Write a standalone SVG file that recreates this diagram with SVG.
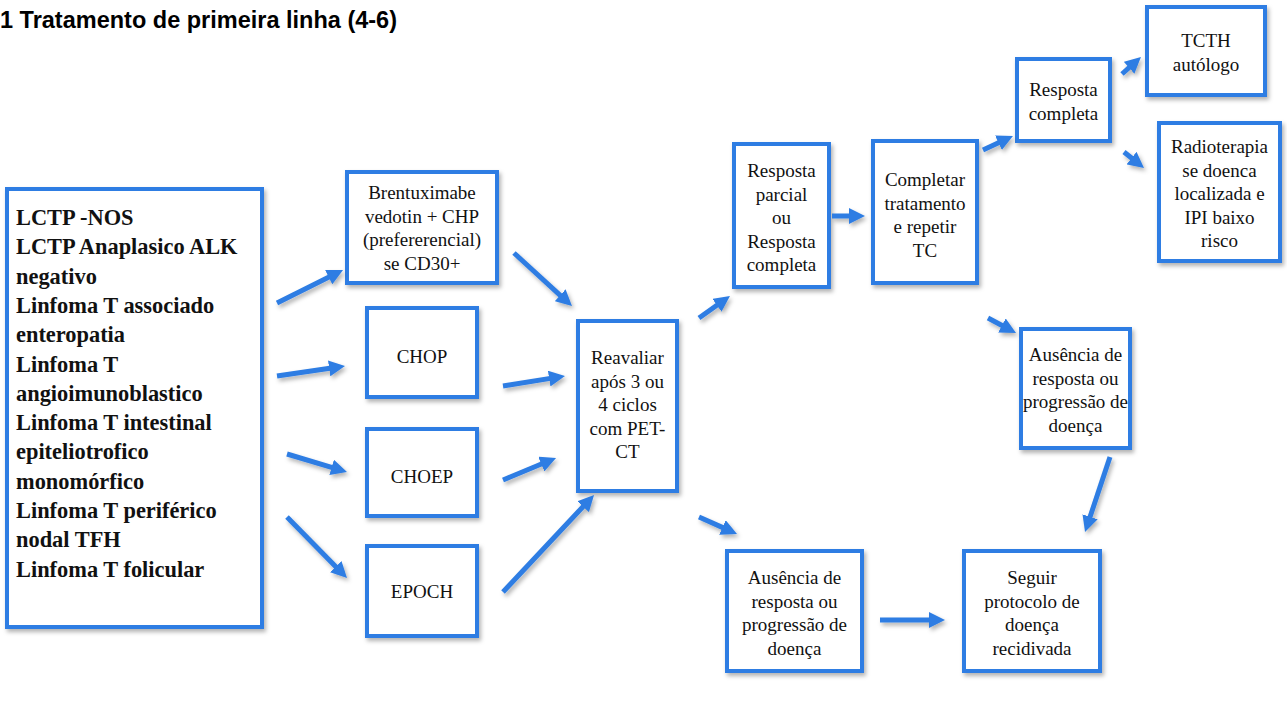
<svg xmlns="http://www.w3.org/2000/svg" width="1287" height="726" viewBox="0 0 1287 726">
<style>
.box{fill:#fff;stroke:#2E7DE3;stroke-width:4;filter:url(#sh)}
.t{font-family:"Liberation Serif","DejaVu Serif",serif;font-size:19px;fill:#111;text-anchor:middle}
.lt{font-family:"Liberation Serif","DejaVu Serif",serif;font-size:22.4px;font-weight:bold;fill:#111}
.title{font-family:"Liberation Sans",Arial,sans-serif;font-size:23.5px;font-weight:bold;fill:#000}
.ar{stroke:#2E7DE3;stroke-width:5;fill:none;marker-end:url(#ah)}
</style>
<defs>
<filter id="sh" x="-20%" y="-20%" width="140%" height="140%">
<feDropShadow dx="2" dy="3" stdDeviation="2" flood-color="#000" flood-opacity="0.3"/>
</filter>
<marker id="ah" markerUnits="userSpaceOnUse" markerWidth="16" markerHeight="16" refX="6" refY="8" orient="auto">
<path d="M0,0 L16,8 L0,16 z" fill="#2E7DE3"/>
</marker>
</defs>
<rect width="1287" height="726" fill="#fff"/>
<text class="title" x="0" y="28">1 Tratamento de primeira linha (4-6)</text>

<g id="n-left">
<rect class="box" x="7" y="189" width="255" height="438"/>
<text class="lt" x="16" y="225">
<tspan x="16" y="225">LCTP -NOS</tspan>
<tspan x="16" y="254.3">LCTP Anaplasico ALK</tspan>
<tspan x="16" y="283.6">negativo</tspan>
<tspan x="16" y="312.9">Linfoma T associado</tspan>
<tspan x="16" y="342.2">enteropatia</tspan>
<tspan x="16" y="371.5">Linfoma T</tspan>
<tspan x="16" y="400.8">angioimunoblastico</tspan>
<tspan x="16" y="430.1">Linfoma T intestinal</tspan>
<tspan x="16" y="459.4">epiteliotrofico</tspan>
<tspan x="16" y="488.7">monomórfico</tspan>
<tspan x="16" y="518">Linfoma T periférico</tspan>
<tspan x="16" y="547.3">nodal TFH</tspan>
<tspan x="16" y="576.6">Linfoma T folicular</tspan>
</text>
</g>

<g id="n-bv">
<rect class="box" x="347" y="172" width="150" height="111"/>
<text class="t"><tspan x="422" y="199">Brentuximabe</tspan><tspan x="422" y="222.5">vedotin + CHP</tspan><tspan x="422" y="246">(prefererencial)</tspan><tspan x="422" y="269.5">se CD30+</tspan></text>
</g>
<g id="n-chop">
<rect class="box" x="367" y="308" width="110" height="89"/>
<text class="t" x="422" y="363">CHOP</text>
</g>
<g id="n-choep">
<rect class="box" x="367" y="429" width="110" height="87"/>
<text class="t" x="422" y="483">CHOEP</text>
</g>
<g id="n-epoch">
<rect class="box" x="367" y="546" width="110" height="90"/>
<text class="t" x="422" y="598">EPOCH</text>
</g>
<g id="n-reav">
<rect class="box" x="578" y="321" width="99" height="170"/>
<text class="t"><tspan x="627.5" y="364">Reavaliar</tspan><tspan x="627.5" y="387.5">após 3 ou</tspan><tspan x="627.5" y="411">4 ciclos</tspan><tspan x="627.5" y="434.5">com PET-</tspan><tspan x="627.5" y="458">CT</tspan></text>
</g>
<g id="n-rp">
<rect class="box" x="734" y="144" width="95" height="143"/>
<text class="t"><tspan x="781.5" y="177">Resposta</tspan><tspan x="781.5" y="200.5">parcial</tspan><tspan x="781.5" y="224">ou</tspan><tspan x="781.5" y="247.5">Resposta</tspan><tspan x="781.5" y="271">completa</tspan></text>
</g>
<g id="n-comp">
<rect class="box" x="873" y="141" width="104" height="142"/>
<text class="t"><tspan x="925" y="186">Completar</tspan><tspan x="925" y="209.5">tratamento</tspan><tspan x="925" y="233">e repetir</tspan><tspan x="925" y="256.5">TC</tspan></text>
</g>
<g id="n-rc">
<rect class="box" x="1017" y="59" width="93" height="82"/>
<text class="t"><tspan x="1063.5" y="96">Resposta</tspan><tspan x="1063.5" y="120">completa</tspan></text>
</g>
<g id="n-tcth">
<rect class="box" x="1147" y="7" width="118" height="88"/>
<text class="t"><tspan x="1206" y="47">TCTH</tspan><tspan x="1206" y="70.5">autólogo</tspan></text>
</g>
<g id="n-radio">
<rect class="box" x="1159" y="123" width="121" height="138"/>
<text class="t"><tspan x="1219.5" y="153">Radioterapia</tspan><tspan x="1219.5" y="176.5">se doenca</tspan><tspan x="1219.5" y="200">localizada e</tspan><tspan x="1219.5" y="223.5">IPI baixo</tspan><tspan x="1219.5" y="247">risco</tspan></text>
</g>
<g id="n-aus1">
<rect class="box" x="1021" y="329" width="109" height="119"/>
<text class="t"><tspan x="1075.5" y="361">Ausência de</tspan><tspan x="1075.5" y="384.5">resposta ou</tspan><tspan x="1075.5" y="408">progressão de</tspan><tspan x="1075.5" y="431.5">doença</tspan></text>
</g>
<g id="n-aus2">
<rect class="box" x="727" y="551" width="135" height="120"/>
<text class="t"><tspan x="794.5" y="584">Ausência de</tspan><tspan x="794.5" y="607.5">resposta ou</tspan><tspan x="794.5" y="631">progressão de</tspan><tspan x="794.5" y="654.5">doença</tspan></text>
</g>
<g id="n-seg">
<rect class="box" x="964" y="551" width="136" height="120"/>
<text class="t"><tspan x="1032" y="584">Seguir</tspan><tspan x="1032" y="607.5">protocolo de</tspan><tspan x="1032" y="631">doença</tspan><tspan x="1032" y="654.5">recidivada</tspan></text>
</g>

<g id="connectors" filter="url(#sh)">
<line class="ar" x1="277" y1="303" x2="334.1" y2="274.5"/>
<line class="ar" x1="277" y1="376" x2="335.1" y2="367.5"/>
<line class="ar" x1="287" y1="454" x2="337.4" y2="469.1"/>
<line class="ar" x1="287" y1="517" x2="340" y2="570.9"/>
<line class="ar" x1="514" y1="253" x2="564.6" y2="299.3"/>
<line class="ar" x1="503" y1="386" x2="555.1" y2="377.6"/>
<line class="ar" x1="503" y1="480" x2="546.8" y2="461.8"/>
<line class="ar" x1="503" y1="592" x2="587.2" y2="502.3"/>
<line class="ar" x1="699" y1="318" x2="721.8" y2="301.8"/>
<line class="ar" x1="699" y1="517" x2="727.9" y2="529.9"/>
<line class="ar" x1="832" y1="216" x2="855" y2="216"/>
<line class="ar" x1="983" y1="150" x2="1003.9" y2="140.2"/>
<line class="ar" x1="1122" y1="74" x2="1133.5" y2="63.7"/>
<line class="ar" x1="1124" y1="152" x2="1136.2" y2="161.8"/>
<line class="ar" x1="988" y1="318" x2="1007.2" y2="328.3"/>
<line class="ar" x1="1110" y1="457" x2="1088.2" y2="522.5"/>
<line class="ar" x1="880" y1="620" x2="935" y2="620"/>
</g>
</svg>
